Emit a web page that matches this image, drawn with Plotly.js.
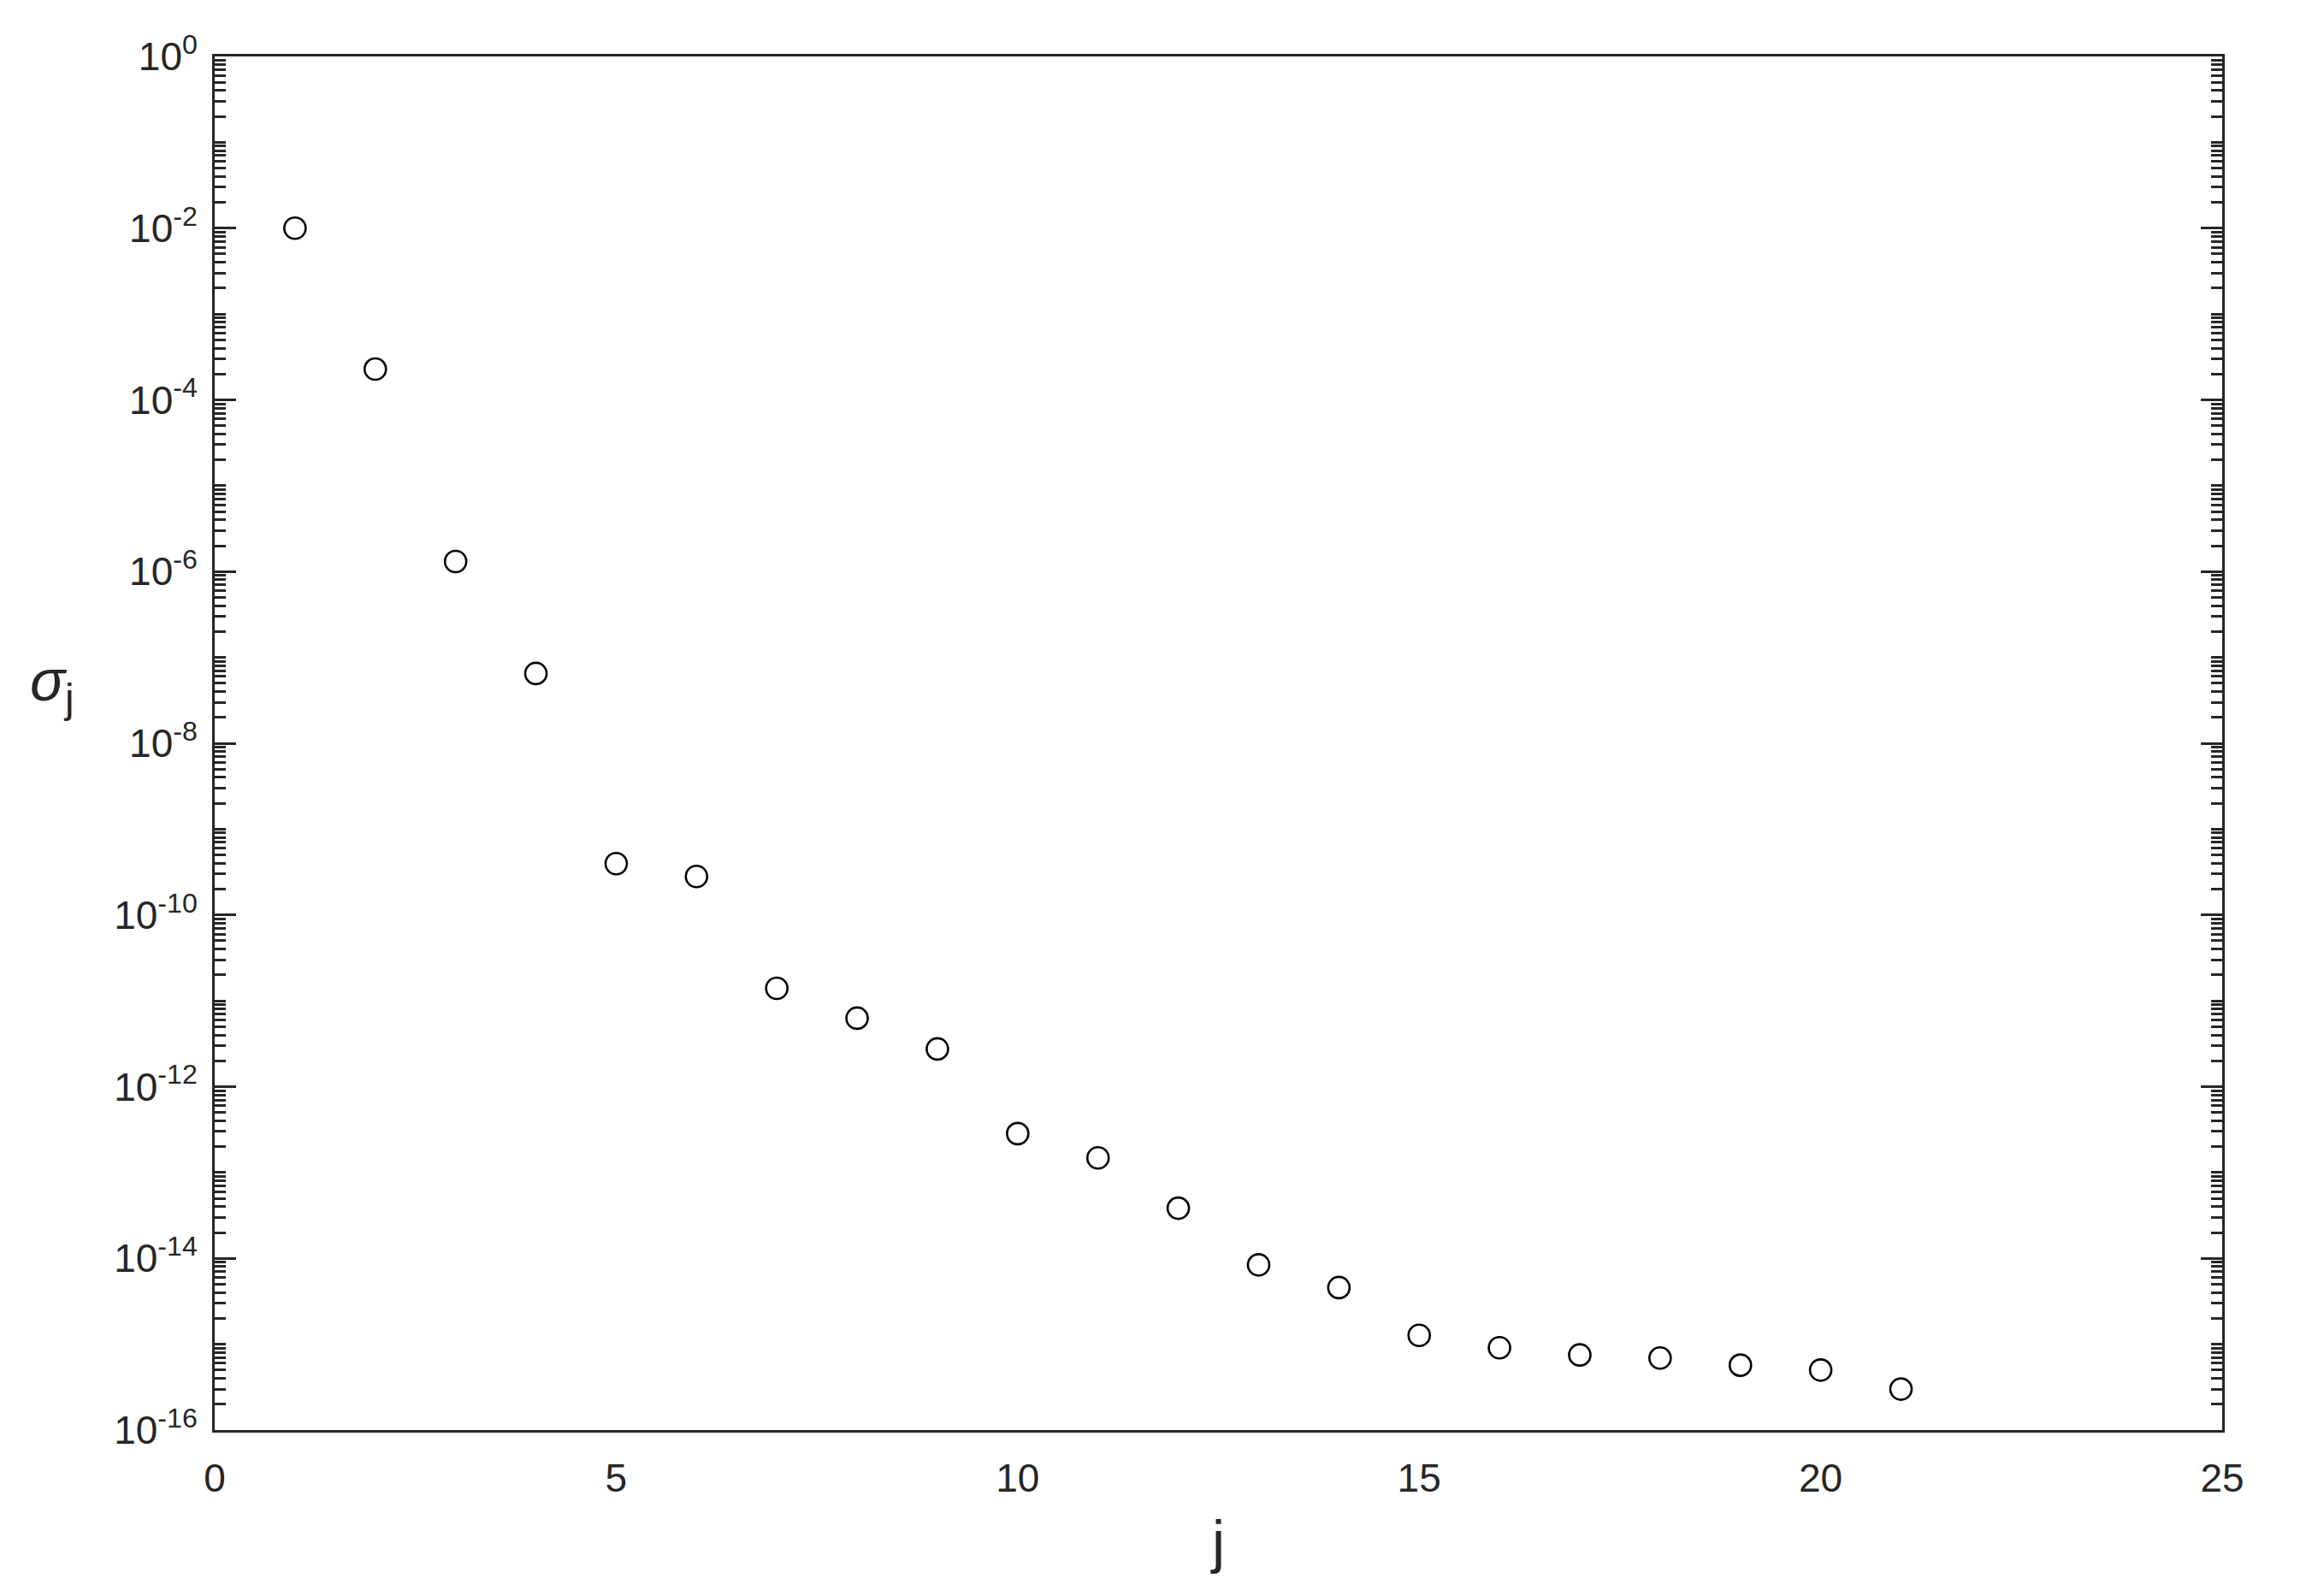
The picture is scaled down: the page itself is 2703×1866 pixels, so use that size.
<!DOCTYPE html>
<html>
<head>
<meta charset="utf-8">
<script src="https://cdn.plot.ly/plotly-3.0.1.min.js"></script>
<style>
  html, body { margin: 0; padding: 0; background: #fff; }
  #chart { width: 2703px; height: 1866px; }
</style>
</head>
<body>
<div id="chart"></div>
<script>
// singular values sigma_j
var j = [1, 2, 3, 4, 5, 6, 7, 8, 9, 10, 11, 12, 13, 14, 15, 16, 17, 18, 19, 20, 21];
var sigma = [1.0e-2, 2.28e-4, 1.31e-6, 6.5e-8, 3.96e-10, 2.81e-10, 1.40e-11, 6.28e-12,
             2.75e-12, 2.84e-13, 1.48e-13, 3.84e-14, 8.4e-15, 4.57e-15, 1.27e-15,
             9.1e-16, 7.5e-16, 6.9e-16, 5.7e-16, 5.0e-16, 3.0e-16];

var majorExp = [0, -2, -4, -6, -8, -10, -12, -14, -16];
var xTicks = [0, 5, 10, 15, 20, 25];

var INK = '#262626';

var yTickVals = majorExp.map(function (e) { return Math.pow(10, e); });
var yTickText = majorExp.map(function (e) { return '10<sup>' + e + '</sup>'; });

// minor ticks: 2..9 x 10^k in every decade, plus the odd decades
var yMinor = [];
for (var e = -16; e < 0; e++) {
  for (var m = 1; m <= 9; m++) {
    if (m === 1 && e % 2 === 0) continue;
    yMinor.push(m * Math.pow(10, e));
  }
}

var data = [
  {
    x: j,
    y: sigma,
    mode: 'markers',
    type: 'scatter',
    marker: {
      symbol: 'circle',
      size: 25,
      color: 'rgba(255,255,255,0)',
      line: { color: '#000', width: 2.6 }
    },
    cliponaxis: false,
    hoverinfo: 'x+y'
  }
];

var layout = {
  width: 2703,
  height: 1866,
  margin: { l: 251, r: 105, t: 66, b: 194 },
  paper_bgcolor: '#fff',
  plot_bgcolor: '#fff',
  showlegend: false,
  font: { family: 'Liberation Sans, Arial, sans-serif', color: INK, size: 46 },
  xaxis: {
    range: [0, 25],
    tickmode: 'array',
    tickvals: xTicks,
    ticks: '',
    showline: true,
    linecolor: INK,
    linewidth: 2.8,
    mirror: true,
    showgrid: false,
    zeroline: false,
    tickfont: { size: 46, color: INK },
    ticklabelstandoff: 14,
    title: { text: 'j', font: { size: 68, color: INK }, standoff: 26 }
  },
  yaxis: {
    type: 'log',
    range: [-16, 0],
    tickmode: 'array',
    tickvals: yTickVals,
    ticktext: yTickText,
    ticks: 'inside',
    ticklen: 25,
    tickwidth: 2.5,
    tickcolor: INK,
    minor: {
      tickmode: 'array',
      tickvals: yMinor,
      ticks: 'inside',
      ticklen: 13,
      tickwidth: 2.5,
      tickcolor: INK,
      showgrid: false
    },
    showline: true,
    linecolor: INK,
    linewidth: 2.8,
    mirror: 'allticks',
    showgrid: false,
    zeroline: false,
    tickfont: { size: 46, color: INK },
    ticklabelstandoff: 8
  },
  annotations: [
    {
      text: '<i>σ</i><sub>j</sub>',
      xref: 'paper',
      yref: 'paper',
      x: -0.081,
      y: 0.543,
      xanchor: 'center',
      yanchor: 'middle',
      showarrow: false,
      font: { size: 68, color: INK }
    }
  ]
};

var config = { responsive: false, displayModeBar: false };
Plotly.newPlot(document.getElementById('chart'), data, layout, config);
</script>
</body>
</html>
